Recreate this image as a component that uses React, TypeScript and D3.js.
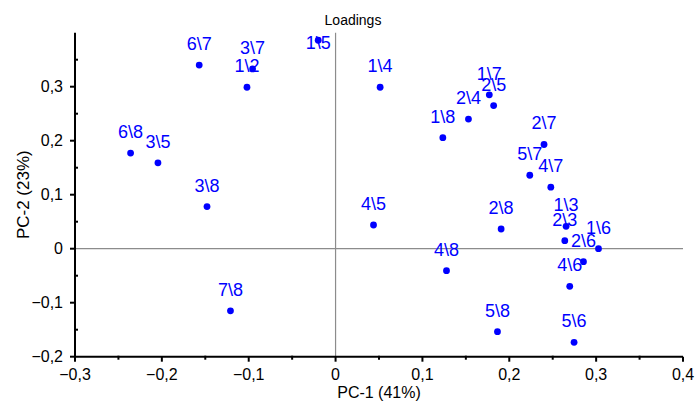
import React from "react";
import * as d3 from "d3";

const labels = ["6\\7","3\\7","1\\2","1\\5","6\\8","3\\5","3\\8","7\\8","1\\4","1\\7","2\\5","2\\4","1\\8","2\\7","5\\7","4\\7","4\\5","2\\8","1\\3","2\\3","1\\6","2\\6","4\\8","4\\6","5\\8","5\\6"];
const pc1 = [-0.157,-0.0955,-0.102,-0.020,-0.236,-0.2045,-0.148,-0.121,0.0513,0.177,0.182,0.153,0.1235,0.240,0.2236,0.2478,0.0437,0.1906,0.2654,0.2639,0.3027,0.2854,0.1277,0.2696,0.1864,0.2746];
const pc2 = [0.340,0.333,0.299,0.386,0.177,0.159,0.078,-0.115,0.299,0.285,0.265,0.240,0.2056,0.193,0.136,0.114,0.0439,0.0365,0.0415,0.0148,0.0,-0.024,-0.0407,-0.0696,-0.1537,-0.1733];
const xTicks = [-0.3,-0.2,-0.1,0,0.1,0.2,0.3,0.4];
const yTicks = [-0.2,-0.1,0,0.1,0.2,0.3];
const xMinor = [-0.25,-0.15,-0.05,0.05,0.15,0.25,0.35];
const yMinor = [-0.15,-0.05,0.05,0.15,0.25,0.35];

const W = 697, H = 403;
const L = 75, R = 683, T = 32.7, B = 356.7;
const FONT = "'Liberation Sans', Arial, sans-serif";
const fmt = (v: number) => (Math.abs(v) < 1e-9 ? "0" : d3.format(".1f")(v).replace(".", ","));

export default function App() {
  const x = d3.scaleLinear().domain([-0.3, 0.4]).range([L, R]);
  const y = d3.scaleLinear().domain([-0.2, 0.4]).range([B, T]);
  const blue = "#0000ff";
  return (
    <svg width={W} height={H} style={{ position: "absolute", left: 0, top: 0, background: "#fff" }} fontFamily={FONT}>
      <rect width={W} height={H} fill="#fff" />
      <text x={353} y={25} fontSize={14} textAnchor="middle" fill="#000">Loadings</text>
      {/* zero lines */}
      <line x1={L} x2={R} y1={y(0)} y2={y(0)} stroke="#8c8c8c" strokeWidth={1.2} />
      <line x1={x(0)} x2={x(0)} y1={T} y2={B} stroke="#8c8c8c" strokeWidth={1.2} />
      {/* axes */}
      <line x1={L} x2={L} y1={T} y2={B + 1} stroke="#000" strokeWidth={2} />
      <line x1={L - 1} x2={R} y1={B} y2={B} stroke="#000" strokeWidth={2} />
      {xTicks.map((t) => (
        <g key={"xt" + t}>
          <line x1={x(t)} x2={x(t)} y1={B} y2={B + 5} stroke="#000" strokeWidth={2} />
          <text x={x(t)} y={B + 23} fontSize={16} textAnchor="middle" fill="#000">{fmt(t)}</text>
        </g>
      ))}
      {xMinor.map((t) => (
        <line key={"xm" + t} x1={x(t)} x2={x(t)} y1={B - 1} y2={B + 3} stroke="#000" strokeWidth={2} />
      ))}
      {yTicks.map((t) => (
        <g key={"yt" + t}>
          <line x1={L - 5} x2={L} y1={y(t)} y2={y(t)} stroke="#000" strokeWidth={2} />
          <text x={63} y={y(t) + 5.5} fontSize={16} textAnchor="end" fill="#000">{fmt(t)}</text>
        </g>
      ))}
      {yMinor.map((t) => (
        <line key={"ym" + t} x1={L - 1} x2={L + 3} y1={y(t)} y2={y(t)} stroke="#000" strokeWidth={2} />
      ))}
      <text x={(L + R) / 2} y={398} fontSize={16} textAnchor="middle" fill="#000">PC-1 (41%)</text>
      <text transform={`translate(29,${(T + B) / 2}) rotate(-90)`} fontSize={17} textAnchor="middle" fill="#000">PC-2 (23%)</text>
      {labels.map((lab, i) => {
        const px = x(pc1[i]);
        const py = y(pc2[i]);
        const ty = Math.max(py - 15, T + 16.5);
        return (
          <g key={lab}>
            <circle cx={px} cy={py} r={3.4} fill={blue} />
            <text x={px} y={ty} fontSize={18} textAnchor="middle" fill={blue}>{lab}</text>
          </g>
        );
      })}
    </svg>
  );
}
